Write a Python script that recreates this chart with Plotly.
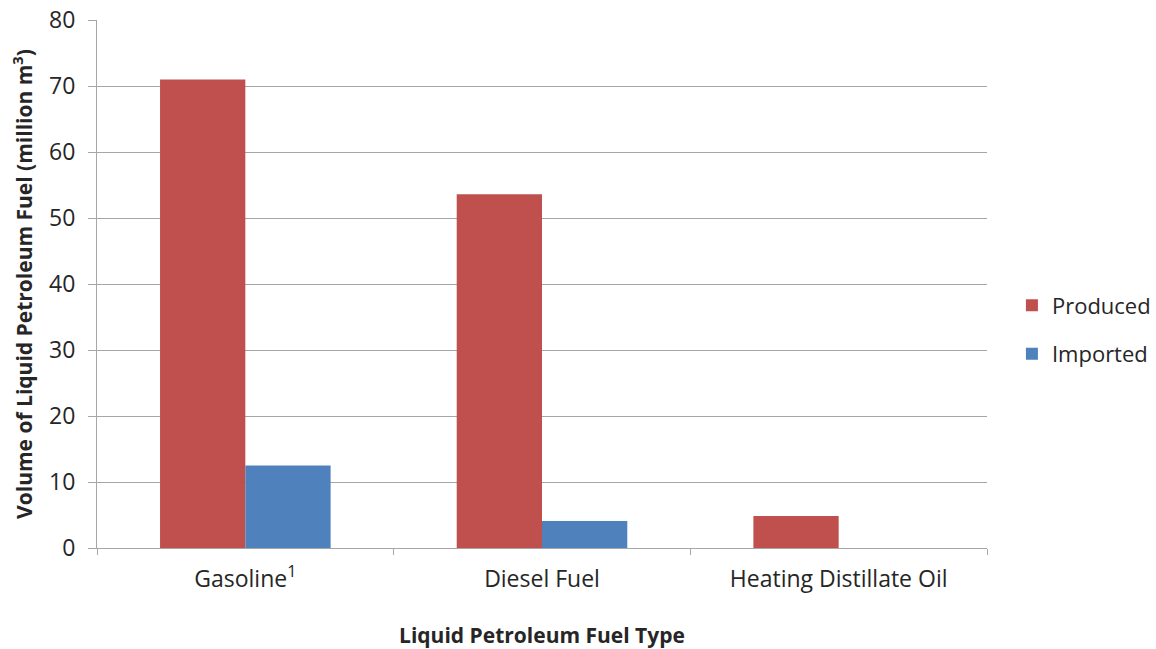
import plotly.graph_objects as go

# Fuel types and volumes (million m³)
fuel_types = ["Gasoline<sup>1</sup>", "Diesel Fuel", "Heating Distillate Oil"]
produced = [71.0, 53.6, 4.85]
imported = [12.5, 4.1, 0]

FONT = "Open Sans"

fig = go.Figure()
fig.add_trace(go.Bar(
    x=fuel_types, y=produced, name="Produced", legendgroup="p",
    marker=dict(color="#C0504D", line=dict(width=0)),
))
fig.add_trace(go.Bar(
    x=fuel_types, y=imported, name="Imported", legendgroup="i",
    marker=dict(color="#4F81BD", line=dict(width=0)),
))

fig.update_layout(
    width=1156, height=649,
    margin=dict(l=97, r=169, t=20, b=101, autoexpand=False),
    paper_bgcolor="white", plot_bgcolor="white",
    barmode="group", bargap=0.425, bargroupgap=0,
    font=dict(family=FONT, size=22, color="#262626"),
    legend=dict(
        x=1.028, y=0.413, xanchor="left", yanchor="middle",
        font=dict(size=22, color="#262626"),
        tracegroupgap=17, itemwidth=30,
    ),
    xaxis=dict(
        title=dict(text="<b>Liquid Petroleum Fuel Type</b>", font=dict(size=21), standoff=38),
        showline=True, linecolor="#A6A6A6", linewidth=1,
        ticks="outside", tickson="boundaries", ticklen=6, tickcolor="#A6A6A6",
        showgrid=False, automargin=False,
        tickfont=dict(size=23), ticklabelstandoff=10,
    ),
    yaxis=dict(
        title=dict(text="<b>Volume of Liquid Petroleum Fuel (million m<sup>3</sup>)</b>",
                   font=dict(size=21), standoff=10),
        range=[0, 80], dtick=10,
        showline=True, linecolor="#A6A6A6", linewidth=1,
        ticks="outside", ticklen=8, tickcolor="#A6A6A6",
        gridcolor="#A6A6A6", gridwidth=1, zeroline=False,
        tickfont=dict(size=23), ticklabelstandoff=8, automargin=False,
    ),
)

fig.write_html("out.html")
